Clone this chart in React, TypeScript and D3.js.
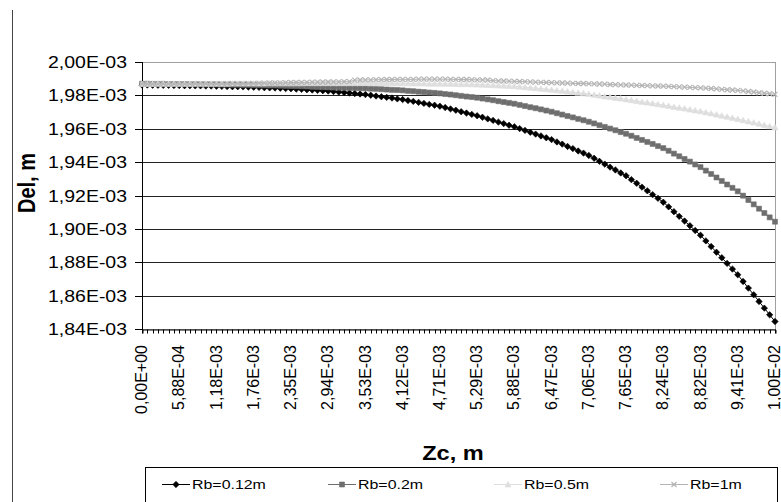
import { useEffect, useRef } from 'react';
import * as d3 from 'd3';

// x axis: labels every 7th sample
const xTickLabels = [
  '0,00E+00', '5,88E-04', '1,18E-03', '1,76E-03', '2,35E-03', '2,94E-03',
  '3,53E-03', '4,12E-03', '4,71E-03', '5,29E-03', '5,88E-03', '6,47E-03',
  '7,06E-03', '7,65E-03', '8,24E-03', '8,82E-03', '9,41E-03', '1,00E-02',
];

// y values in units of 1E-03 m
const yTicks = [1.84, 1.86, 1.88, 1.90, 1.92, 1.94, 1.96, 1.98, 2.00];

const seriesNames = ['Rb=0.12m', 'Rb=0.2m', 'Rb=0.5m', 'Rb=1m'];

const rb012 = [
  1.9862, 1.9862, 1.9861, 1.9861, 1.9860, 1.9860, 1.9859,
  1.9859, 1.9858, 1.9858, 1.9857, 1.9857, 1.9856, 1.9856,
  1.9855, 1.9854, 1.9853, 1.9852, 1.9852, 1.9851, 1.9850,
  1.9849, 1.9848, 1.9846, 1.9845, 1.9844, 1.9843, 1.9841,
  1.9840, 1.9838, 1.9836, 1.9834, 1.9832, 1.9830, 1.9828,
  1.9826, 1.9823, 1.9820, 1.9817, 1.9814, 1.9811, 1.9808,
  1.9805, 1.9801, 1.9796, 1.9792, 1.9788, 1.9784, 1.9779,
  1.9775, 1.9769, 1.9764, 1.9758, 1.9752, 1.9746, 1.9741,
  1.9735, 1.9727, 1.9719, 1.9711, 1.9702, 1.9694, 1.9686,
  1.9678, 1.9669, 1.9659, 1.9650, 1.9640, 1.9631, 1.9621,
  1.9612, 1.9601, 1.9590, 1.9579, 1.9568, 1.9557, 1.9546,
  1.9535, 1.9521, 1.9508, 1.9494, 1.9481, 1.9467, 1.9454,
  1.9440, 1.9423, 1.9405, 1.9388, 1.9370, 1.9353, 1.9335,
  1.9318, 1.9295, 1.9273, 1.9250, 1.9228, 1.9205, 1.9183,
  1.9160, 1.9132, 1.9103, 1.9075, 1.9047, 1.9019, 1.8990,
  1.8962, 1.8928, 1.8894, 1.8860, 1.8827, 1.8793, 1.8759,
  1.8725, 1.8685, 1.8645, 1.8605, 1.8565, 1.8525, 1.8485, 1.8445,
];

const rb02 = [
  1.9870, 1.9870, 1.9869, 1.9869, 1.9869, 1.9868, 1.9868,
  1.9868, 1.9868, 1.9867, 1.9867, 1.9867, 1.9866, 1.9866,
  1.9866, 1.9865, 1.9865, 1.9864, 1.9864, 1.9863, 1.9863,
  1.9862, 1.9861, 1.9860, 1.9859, 1.9859, 1.9858, 1.9857,
  1.9856, 1.9855, 1.9854, 1.9853, 1.9851, 1.9850, 1.9849,
  1.9848, 1.9847, 1.9846, 1.9845, 1.9845, 1.9844, 1.9843,
  1.9842, 1.9840, 1.9839, 1.9837, 1.9835, 1.9833, 1.9832,
  1.9830, 1.9827, 1.9825, 1.9822, 1.9820, 1.9817, 1.9815,
  1.9812, 1.9808, 1.9805, 1.9801, 1.9797, 1.9793, 1.9790,
  1.9786, 1.9781, 1.9776, 1.9771, 1.9765, 1.9760, 1.9755,
  1.9750, 1.9743, 1.9736, 1.9729, 1.9723, 1.9716, 1.9709,
  1.9702, 1.9693, 1.9685, 1.9676, 1.9668, 1.9659, 1.9651,
  1.9642, 1.9632, 1.9621, 1.9611, 1.9601, 1.9591, 1.9580,
  1.9570, 1.9558, 1.9545, 1.9533, 1.9521, 1.9509, 1.9496,
  1.9484, 1.9468, 1.9451, 1.9435, 1.9419, 1.9403, 1.9386,
  1.9370, 1.9349, 1.9329, 1.9308, 1.9287, 1.9266, 1.9246,
  1.9225, 1.9199, 1.9173, 1.9147, 1.9121, 1.9095, 1.9069, 1.9043,
];

const rb05 = [
  1.9868, 1.9868, 1.9868, 1.9869, 1.9869, 1.9869, 1.9869,
  1.9869, 1.9869, 1.9869, 1.9870, 1.9870, 1.9870, 1.9870,
  1.9870, 1.9870, 1.9870, 1.9871, 1.9871, 1.9871, 1.9871,
  1.9871, 1.9871, 1.9871, 1.9872, 1.9872, 1.9872, 1.9872,
  1.9872, 1.9872, 1.9872, 1.9873, 1.9873, 1.9873, 1.9873,
  1.9873, 1.9873, 1.9873, 1.9873, 1.9873, 1.9873, 1.9873,
  1.9873, 1.9873, 1.9873, 1.9873, 1.9872, 1.9872, 1.9872,
  1.9872, 1.9872, 1.9871, 1.9871, 1.9871, 1.9870, 1.9870,
  1.9870, 1.9869, 1.9869, 1.9868, 1.9867, 1.9867, 1.9866,
  1.9865, 1.9864, 1.9862, 1.9861, 1.9859, 1.9858, 1.9856,
  1.9855, 1.9852, 1.9849, 1.9846, 1.9843, 1.9840, 1.9837,
  1.9834, 1.9830, 1.9827, 1.9823, 1.9819, 1.9815, 1.9812,
  1.9808, 1.9803, 1.9799, 1.9794, 1.9790, 1.9785, 1.9781,
  1.9776, 1.9771, 1.9766, 1.9761, 1.9757, 1.9752, 1.9747,
  1.9742, 1.9737, 1.9731, 1.9726, 1.9721, 1.9715, 1.9710,
  1.9705, 1.9698, 1.9692, 1.9685, 1.9678, 1.9672, 1.9665,
  1.9658, 1.9651, 1.9644, 1.9637, 1.9630, 1.9622, 1.9615, 1.9608,
];

const rb1 = [
  1.9868, 1.9868, 1.9868, 1.9869, 1.9869, 1.9869, 1.9869,
  1.9869, 1.9869, 1.9869, 1.9870, 1.9870, 1.9870, 1.9870,
  1.9870, 1.9870, 1.9871, 1.9871, 1.9871, 1.9871, 1.9872,
  1.9872, 1.9873, 1.9873, 1.9874, 1.9875, 1.9875, 1.9876,
  1.9877, 1.9877, 1.9878, 1.9878, 1.9879, 1.9879, 1.9880,
  1.9880, 1.9881, 1.9881, 1.9882, 1.9882, 1.9891, 1.9892,
  1.9893, 1.9893, 1.9894, 1.9894, 1.9895, 1.9895, 1.9896,
  1.9896, 1.9896, 1.9896, 1.9897, 1.9897, 1.9897, 1.9897,
  1.9897, 1.9897, 1.9896, 1.9896, 1.9895, 1.9895, 1.9894,
  1.9893, 1.9893, 1.9892, 1.9888, 1.9887, 1.9886, 1.9885,
  1.9884, 1.9883, 1.9882, 1.9881, 1.9879, 1.9878, 1.9877,
  1.9876, 1.9875, 1.9874, 1.9873, 1.9872, 1.9871, 1.9871,
  1.9870, 1.9869, 1.9868, 1.9867, 1.9865, 1.9864, 1.9863,
  1.9862, 1.9861, 1.9860, 1.9859, 1.9858, 1.9857, 1.9856,
  1.9855, 1.9854, 1.9852, 1.9851, 1.9849, 1.9848, 1.9846,
  1.9845, 1.9843, 1.9841, 1.9839, 1.9836, 1.9834, 1.9832,
  1.9830, 1.9827, 1.9823, 1.9820, 1.9816, 1.9813, 1.9810, 1.9806,
];

const FONT = '"Liberation Sans", Arial, sans-serif';
const STRETCH = 1.18; // the source picture is a little wider than tall

export default function App() {
  const chartRef = useRef<SVGSVGElement>(null);

  useEffect(() => {
    if (!chartRef.current) return;
    const svg = d3.select(chartRef.current);
    svg.selectAll('*').remove();

    const left = 142, right = 775, top = 62, bottom = 329;
    const n = rb012.length;
    const step = (n - 1) / (xTickLabels.length - 1);

    const x = d3.scaleLinear().domain([0, n - 1]).range([left, right]);
    const y = d3.scaleLinear().domain([1.84, 2.0]).range([bottom, top]);
    const ry = (v: number) => Math.round(y(v)) + 0.5;

    svg.append('rect').attr('width', 781).attr('height', 502).attr('fill', '#fff');

    // chart area border (only the left edge shows)
    svg.append('line')
      .attr('x1', 12.5).attr('x2', 12.5).attr('y1', 10).attr('y2', 502)
      .attr('stroke', '#444');

    // plot area border
    svg.append('rect')
      .attr('x', left + 0.5).attr('y', top + 0.5)
      .attr('width', right - left).attr('height', bottom - top)
      .attr('fill', 'none').attr('stroke', '#a0a0a0');

    // grid lines
    svg.append('g')
      .selectAll('line')
      .data(yTicks.filter(v => v < 2.0 && v > 1.84))
      .enter()
      .append('line')
      .attr('x1', left).attr('x2', right)
      .attr('y1', ry).attr('y2', ry)
      .attr('stroke', '#222');

    // y axis
    svg.append('line')
      .attr('x1', left + 0.5).attr('x2', left + 0.5)
      .attr('y1', top).attr('y2', bottom + 1)
      .attr('stroke', '#000');
    const yTick = svg.append('g')
      .selectAll('g')
      .data(yTicks)
      .enter()
      .append('g')
      .attr('transform', d => `translate(0,${ry(d)})`);
    yTick.append('line')
      .attr('x1', left - 7).attr('x2', left)
      .attr('stroke', '#000');
    yTick.append('text')
      .attr('transform', `translate(127,0) scale(${STRETCH},1)`)
      .attr('text-anchor', 'end')
      .attr('dy', '0.36em')
      .attr('font-family', FONT).attr('font-size', 16.5).attr('fill', '#000')
      .text(d => `${d.toFixed(2).replace('.', ',')}E-03`);

    // x axis
    const xAxis = svg.append('g')
      .attr('transform', `translate(0.5,${bottom + 0.5})`)
      .call(d3.axisBottom(x).tickValues(d3.range(n)).tickSize(4).tickFormat(() => ''));
    xAxis.select('.domain').attr('stroke', '#000');
    xAxis.selectAll('.tick').attr('transform', d => `translate(${Math.round(x(d as number))},0)`);
    xAxis.selectAll('.tick line').attr('stroke', '#000');

    svg.append('g')
      .selectAll('text')
      .data(xTickLabels)
      .enter()
      .append('text')
      .attr('transform', (_, i) => `translate(${x(i * step)},${bottom + 16}) rotate(-90)`)
      .attr('text-anchor', 'end')
      .attr('dy', '0.32em')
      .attr('font-family', FONT).attr('font-size', 16).attr('fill', '#000')
      .text(d => d);

    // axis titles
    svg.append('text')
      .attr('transform', `translate(453,460) scale(${STRETCH},1)`)
      .attr('text-anchor', 'middle')
      .attr('font-family', FONT).attr('font-size', 20).attr('font-weight', 'bold')
      .text('Zc, m');

    svg.append('text')
      .attr('transform', `translate(35,183) rotate(-90) scale(1,${STRETCH})`)
      .attr('text-anchor', 'middle')
      .attr('font-family', FONT).attr('font-size', 20).attr('font-weight', 'bold')
      .text('Del, m');

    // series styles
    const styles = [
      { color: '#000000', marker: 'diamond' },
      { color: '#6e6e6e', marker: 'square' },
      { color: '#dedede', marker: 'triangle' },
      { color: '#b4b4b4', marker: 'cross' },
    ];
    const markerPath: Record<string, string> = {
      diamond: 'M0,-3.2L3.2,0L0,3.2L-3.2,0Z',
      square: 'M-2.5,-2.5H2.5V2.5H-2.5Z',
      triangle: 'M0,-3L3,2.5H-3Z',
      cross: 'M-2.5,-2.5L2.5,2.5M-2.5,2.5L2.5,-2.5',
    };

    const allSeries = [rb012, rb02, rb05, rb1];
    const line = d3.line<number>().x((_, i) => x(i)).y(d => y(d));

    allSeries.forEach((values, s) => {
      const st = styles[s];
      const g = svg.append('g');
      g.append('path')
        .datum(values)
        .attr('d', line)
        .attr('fill', 'none')
        .attr('stroke', st.color)
        .attr('stroke-width', 1);
      g.selectAll('path.m')
        .data(values)
        .enter()
        .append('path')
        .attr('class', 'm')
        .attr('transform', (d, i) => `translate(${x(i)},${y(d)})`)
        .attr('d', markerPath[st.marker])
        .attr('fill', st.marker === 'cross' ? 'none' : st.color)
        .attr('stroke', st.color)
        .attr('stroke-width', st.marker === 'cross' ? 1.2 : 0.6);
    });

    // legend
    const legend = svg.append('g');
    legend.append('rect')
      .attr('x', 145.5).attr('y', 467.5).attr('width', 632).attr('height', 44)
      .attr('fill', '#fff').attr('stroke', '#000');

    const item = legend.selectAll('g.item')
      .data(seriesNames)
      .enter()
      .append('g')
      .attr('class', 'item')
      .attr('transform', (_, i) => `translate(${162 + i * 166},484.5)`);
    item.append('line')
      .attr('x1', 0).attr('x2', 28)
      .attr('stroke', (_, i) => styles[i].color);
    item.append('path')
      .attr('transform', 'translate(14,0)')
      .attr('d', (_, i) => markerPath[styles[i].marker])
      .attr('fill', (_, i) => (styles[i].marker === 'cross' ? 'none' : styles[i].color))
      .attr('stroke', (_, i) => styles[i].color)
      .attr('stroke-width', (_, i) => (styles[i].marker === 'cross' ? 1.2 : 0.6));
    item.append('text')
      .attr('transform', `translate(30,0) scale(${STRETCH},1)`)
      .attr('dy', '0.36em')
      .attr('font-family', FONT).attr('font-size', 13.5).attr('fill', '#000')
      .text(d => d);
  }, []);

  return (
    <svg
      ref={chartRef}
      width={781}
      height={502}
      style={{ position: 'absolute', left: 0, top: 0, display: 'block' }}
    />
  );
}
